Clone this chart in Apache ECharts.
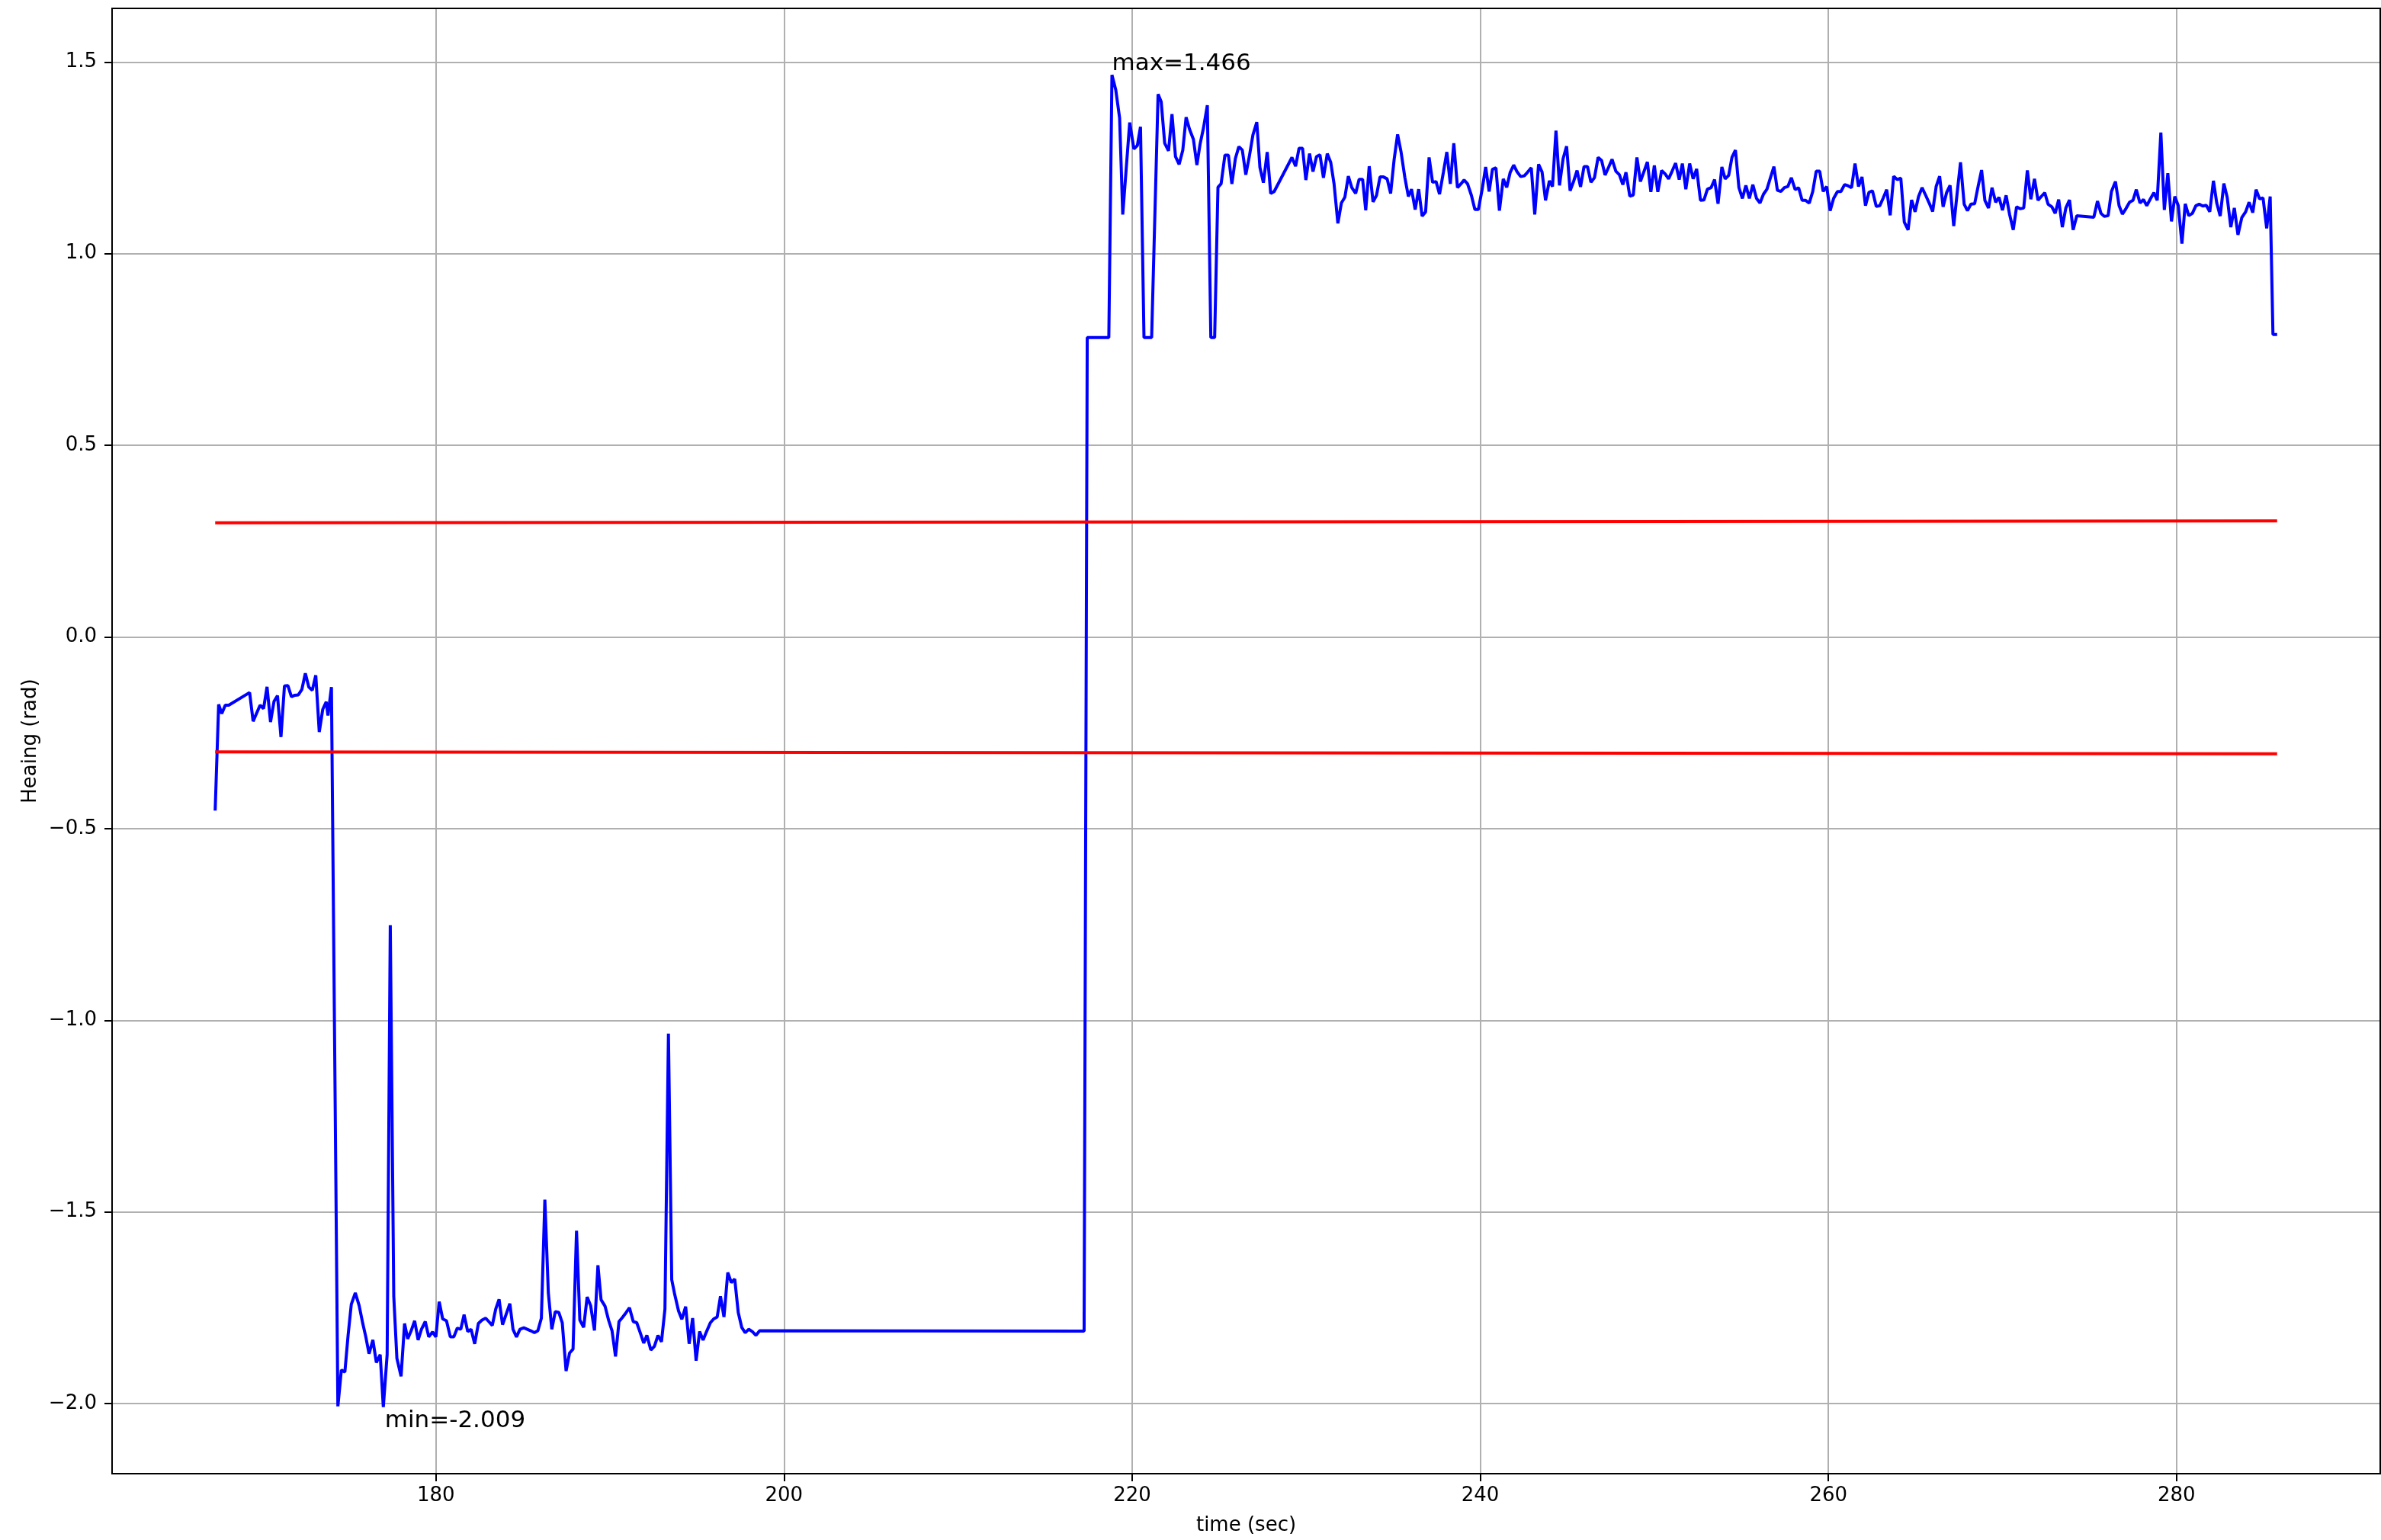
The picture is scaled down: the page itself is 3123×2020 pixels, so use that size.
<!DOCTYPE html>
<html>
<head>
<meta charset="utf-8">
<script src="https://cdn.jsdelivr.net/npm/echarts@6/dist/echarts.min.js"></script>
<style>
html,body{margin:0;padding:0;background:#fff;}
#chart{width:3123px;height:2020px;}
</style>
</head>
<body>
<div id="chart"></div>
<script>
// ---- data ----
const timeSec = [
167.32,167.52,167.70,167.90,168.10,169.30,169.50,169.90,170.10,170.30,170.50,170.70,170.90,171.10,171.30,171.50,171.70,171.90,172.10,172.30,172.50,172.70,172.90,173.10,173.30,173.50,173.70,173.80,174.00,
174.37,174.57,174.77,174.96,175.14,175.37,175.59,175.80,175.97,176.16,176.38,176.58,176.80,176.98,177.20,177.38,177.58,177.76,178.00,178.20,178.38,178.58,178.78,178.98,179.17,179.39,179.59,179.81,180.00,
180.19,180.39,180.61,180.83,181.03,181.23,181.43,181.62,181.83,182.02,182.23,182.44,182.65,182.86,183.04,183.24,183.44,183.63,183.83,184.03,184.25,184.43,184.63,184.83,185.05,185.25,185.45,185.66,185.86,
186.06,186.26,186.46,186.66,186.86,187.06,187.26,187.48,187.68,187.88,188.08,188.27,188.49,188.69,188.89,189.11,189.31,189.49,189.72,189.92,190.12,190.32,190.52,190.72,190.92,191.12,191.34,191.54,191.74,
191.94,192.12,192.35,192.55,192.76,192.96,193.16,193.36,193.55,193.72,193.94,194.13,194.35,194.55,194.75,194.95,195.15,195.35,195.55,195.77,195.96,196.16,196.35,196.55,196.77,196.97,197.17,197.37,197.57,
197.77,197.97,198.18,198.39,198.60,217.24,
217.42,218.66,218.84,219.06,219.28,219.46,219.86,220.10,220.30,220.48,220.68,221.12,221.49,221.67,221.87,222.09,222.29,222.49,222.70,222.91,223.10,223.30,223.52,223.72,223.90,224.10,224.32,224.52,224.74,
224.93,225.11,225.33,225.53,225.73,225.93,226.13,226.33,226.53,226.73,226.94,227.16,227.34,227.54,227.76,227.96,228.16,229.18,229.39,229.59,229.79,229.98,230.19,230.39,230.59,230.79,230.99,231.21,231.41,
231.60,231.82,232.02,232.22,232.42,232.62,232.84,233.04,233.24,233.42,233.62,233.84,234.04,234.24,234.44,234.65,234.85,235.05,235.25,235.45,235.67,235.87,236.05,236.26,236.46,236.66,236.86,237.06,237.26,
237.46,237.66,237.88,238.08,238.28,238.48,238.69,238.89,239.07,239.27,239.49,239.69,239.89,240.11,240.31,240.51,240.70,240.90,241.10,241.32,241.52,241.72,241.92,242.12,242.32,242.53,242.71,242.93,243.13,
243.35,243.55,243.75,243.97,244.15,244.35,244.55,244.76,244.96,245.16,245.36,245.56,245.76,245.96,246.16,246.36,246.56,246.77,246.97,247.17,247.37,247.57,247.79,247.99,248.19,248.37,248.59,248.79,249.00,
249.20,249.41,249.60,249.80,250.00,250.20,250.42,250.62,250.82,251.02,251.22,251.43,251.61,251.81,252.03,252.23,252.43,252.65,252.85,253.05,253.26,253.46,253.66,253.88,254.07,254.27,254.46,254.66,254.86,
255.06,255.26,255.46,255.66,255.87,256.07,256.27,256.47,256.67,256.87,257.07,257.27,257.47,257.67,257.87,258.09,258.29,258.49,258.69,258.90,259.10,259.30,259.50,259.70,259.90,260.10,260.30,260.52,260.72,
260.93,261.13,261.33,261.53,261.73,261.93,262.13,262.33,262.53,262.75,262.95,263.15,263.35,263.55,263.75,263.96,264.16,264.36,264.58,264.78,264.98,265.18,265.38,265.59,265.79,265.99,266.19,266.39,266.59,
266.79,266.99,267.20,267.39,267.59,267.80,267.99,268.19,268.40,268.60,268.80,268.99,269.20,269.40,269.61,269.80,270.00,270.21,270.41,270.62,270.81,271.01,271.22,271.43,271.63,271.84,272.04,272.23,272.43,
272.62,272.84,273.03,273.23,273.44,273.64,273.85,274.06,274.27,275.25,275.46,275.66,275.85,276.07,276.26,276.49,276.70,276.89,277.09,277.30,277.50,277.69,277.90,278.10,278.29,278.50,278.70,278.89,279.10,
279.30,279.50,279.71,279.90,280.10,280.31,280.50,280.70,280.91,281.11,281.30,281.51,281.71,281.91,282.12,282.31,282.51,282.72,282.91,283.12,283.32,283.53,283.75,283.97,284.17,284.38,284.57,284.77,284.97,
285.18,285.38,285.54,285.78
];
const headingRad = [
-0.453,-0.176,-0.200,-0.178,-0.178,-0.145,-0.220,-0.178,-0.187,-0.130,-0.222,-0.168,-0.153,-0.261,-0.128,-0.127,-0.156,-0.152,-0.151,-0.137,-0.095,-0.131,-0.139,-0.100,-0.248,-0.189,-0.169,-0.205,-0.131,
-2.007,-1.912,-1.918,-1.820,-1.741,-1.711,-1.744,-1.791,-1.825,-1.870,-1.834,-1.893,-1.872,-2.009,-1.872,-0.752,-1.720,-1.882,-1.929,-1.791,-1.831,-1.810,-1.784,-1.834,-1.806,-1.786,-1.826,-1.813,-1.826,
-1.734,-1.779,-1.784,-1.826,-1.826,-1.803,-1.806,-1.768,-1.812,-1.806,-1.844,-1.791,-1.782,-1.777,-1.786,-1.796,-1.753,-1.728,-1.794,-1.768,-1.739,-1.806,-1.826,-1.806,-1.802,-1.806,-1.810,-1.815,-1.810,
-1.777,-1.468,-1.711,-1.806,-1.760,-1.762,-1.789,-1.915,-1.868,-1.858,-1.549,-1.782,-1.801,-1.722,-1.744,-1.809,-1.639,-1.729,-1.746,-1.782,-1.810,-1.877,-1.786,-1.775,-1.763,-1.750,-1.786,-1.789,-1.815,
-1.842,-1.822,-1.860,-1.851,-1.822,-1.839,-1.753,-1.035,-1.677,-1.715,-1.758,-1.780,-1.747,-1.844,-1.777,-1.888,-1.812,-1.834,-1.812,-1.789,-1.779,-1.774,-1.720,-1.774,-1.658,-1.684,-1.675,-1.762,-1.801,
-1.815,-1.806,-1.812,-1.822,-1.810,-1.811,
0.781,0.781,1.466,1.427,1.354,1.102,1.342,1.273,1.282,1.331,0.781,0.781,1.416,1.396,1.288,1.268,1.364,1.253,1.233,1.270,1.356,1.324,1.298,1.231,1.285,1.328,1.387,0.781,0.781,
1.173,1.182,1.257,1.257,1.182,1.248,1.279,1.270,1.206,1.253,1.310,1.343,1.225,1.185,1.265,1.157,1.162,1.251,1.228,1.275,1.275,1.192,1.261,1.214,1.253,1.258,1.198,1.261,1.238,
1.182,1.079,1.132,1.147,1.202,1.172,1.157,1.194,1.194,1.113,1.228,1.135,1.152,1.200,1.200,1.195,1.157,1.245,1.311,1.265,1.198,1.149,1.168,1.115,1.168,1.098,1.109,1.251,1.186,
1.188,1.155,1.212,1.265,1.182,1.288,1.172,1.182,1.192,1.182,1.152,1.115,1.115,1.168,1.226,1.162,1.220,1.224,1.112,1.195,1.173,1.212,1.231,1.213,1.201,1.203,1.212,1.224,1.102,
1.233,1.213,1.139,1.190,1.175,1.321,1.178,1.248,1.280,1.164,1.188,1.217,1.174,1.227,1.227,1.186,1.198,1.251,1.243,1.205,1.225,1.246,1.215,1.206,1.180,1.212,1.150,1.153,1.251,
1.188,1.215,1.239,1.161,1.230,1.161,1.217,1.208,1.195,1.215,1.236,1.193,1.235,1.168,1.235,1.195,1.221,1.139,1.140,1.168,1.172,1.193,1.130,1.226,1.195,1.204,1.251,1.270,1.172,
1.144,1.178,1.144,1.180,1.144,1.132,1.155,1.168,1.198,1.227,1.165,1.162,1.172,1.175,1.198,1.167,1.172,1.139,1.139,1.132,1.162,1.215,1.215,1.162,1.175,1.112,1.144,1.162,1.162,
1.180,1.177,1.172,1.235,1.175,1.200,1.125,1.160,1.164,1.123,1.125,1.145,1.167,1.100,1.202,1.193,1.197,1.082,1.062,1.140,1.109,1.149,1.172,1.152,1.132,1.110,1.175,1.202,1.122,
1.159,1.178,1.072,1.155,1.238,1.129,1.112,1.129,1.130,1.175,1.218,1.139,1.119,1.172,1.134,1.147,1.113,1.152,1.102,1.062,1.122,1.117,1.119,1.217,1.142,1.195,1.139,1.149,1.159,
1.129,1.122,1.105,1.141,1.069,1.119,1.140,1.062,1.099,1.095,1.137,1.105,1.097,1.099,1.162,1.188,1.125,1.103,1.117,1.134,1.139,1.167,1.132,1.141,1.125,1.143,1.159,1.139,1.316,
1.114,1.210,1.084,1.149,1.125,1.026,1.130,1.099,1.105,1.125,1.129,1.124,1.126,1.109,1.190,1.132,1.098,1.183,1.147,1.069,1.119,1.049,1.094,1.109,1.134,1.107,1.167,1.143,1.145,
1.066,1.149,0.789,0.789
];
// threshold lines (start / end)
const upperTime = [167.32, 285.78];
const upperVal  = [0.298, 0.303];
const lowerTime = [167.32, 285.78];
const lowerVal  = [-0.300, -0.305];
// tick values
const xTicks = [180, 200, 220, 240, 260, 280];
const yTicks = [-2.0, -1.5, -1.0, -0.5, 0.0, 0.5, 1.0, 1.5];
const xAxisTitle = 'time (sec)';
const yAxisTitle = 'Heaing (rad)';

// ---- build ----
const zip = (a, b) => a.map((t, i) => [t, b[i]]);
const heading = zip(timeSec, headingRad);
let iMax = 0, iMin = 0;
headingRad.forEach((v, i) => { if (v > headingRad[iMax]) iMax = i; if (v < headingRad[iMin]) iMin = i; });
const tMin = Math.min(...timeSec), tMax = Math.max(...timeSec);
const vMin = headingRad[iMin], vMax = headingRad[iMax];
const xPad = (tMax - tMin) * 0.05, yPad = (vMax - vMin) * 0.05;

const FONT = 'DejaVu Sans';
const fmtY = v => (v < 0 ? '\u2212' : '') + Math.abs(v).toFixed(1);

const chart = echarts.init(document.getElementById('chart'), null, {renderer: 'canvas'});
chart.setOption({
  animation: false,
  backgroundColor: '#ffffff',
  grid: {left: 147, right: 1, top: 11, bottom: 87, show: true, borderColor: '#000', borderWidth: 2, backgroundColor: 'transparent', z: 10},
  xAxis: {
    type: 'value', min: tMin - xPad, max: tMax + xPad,
    name: xAxisTitle, nameLocation: 'middle', nameGap: 55,
    nameTextStyle: {fontFamily: FONT, fontSize: 26, color: '#000'},
    axisLine: {show: true, onZero: false, lineStyle: {color: '#000', width: 2}},
    axisTick: {show: true, inside: false, length: 10, lineStyle: {color: '#000', width: 2}, customValues: xTicks},
    axisLabel: {show: true, margin: 16, fontFamily: FONT, fontSize: 26, color: '#000', customValues: xTicks, formatter: v => String(Math.round(v))},
    splitLine: {show: true, lineStyle: {color: '#b0b0b0', width: 2}}
  },
  yAxis: {
    type: 'value', min: vMin - yPad, max: vMax + yPad,
    name: yAxisTitle, nameLocation: 'middle', nameGap: 93,
    nameTextStyle: {fontFamily: FONT, fontSize: 26, color: '#000'},
    axisLine: {show: true, onZero: false, lineStyle: {color: '#000', width: 2}},
    axisTick: {show: true, inside: false, length: 10, lineStyle: {color: '#000', width: 2}, customValues: yTicks},
    axisLabel: {show: true, margin: 20, fontFamily: FONT, fontSize: 26, color: '#000', customValues: yTicks, formatter: fmtY},
    splitLine: {show: true, lineStyle: {color: '#b0b0b0', width: 2}}
  },
  series: [
    {
      type: 'line', data: heading, showSymbol: false, symbol: 'none',
      lineStyle: {color: '#0000ff', width: 4}, z: 3,
      markPoint: {
        symbol: 'circle', symbolSize: 0, silent: true,
        data: [
          {coord: [timeSec[iMax], vMax], value: 'max=' + vMax.toFixed(3),
           label: {show: true, position: [0, 1], align: 'left', verticalAlign: 'bottom', formatter: 'max=' + vMax.toFixed(3), fontFamily: FONT, fontSize: 31, color: '#000'}},
          {coord: [timeSec[iMin], vMin], value: 'min=' + vMin.toFixed(3),
           label: {show: true, position: [2, 3], align: 'left', verticalAlign: 'top', formatter: 'min=' + vMin.toFixed(3), fontFamily: FONT, fontSize: 31, color: '#000'}}
        ]
      }
    },
    {type: 'line', data: zip(upperTime, upperVal), showSymbol: false, symbol: 'none', lineStyle: {color: '#ff0000', width: 4}, z: 4},
    {type: 'line', data: zip(lowerTime, lowerVal), showSymbol: false, symbol: 'none', lineStyle: {color: '#ff0000', width: 4}, z: 4}
  ]
});
</script>
</body>
</html>
